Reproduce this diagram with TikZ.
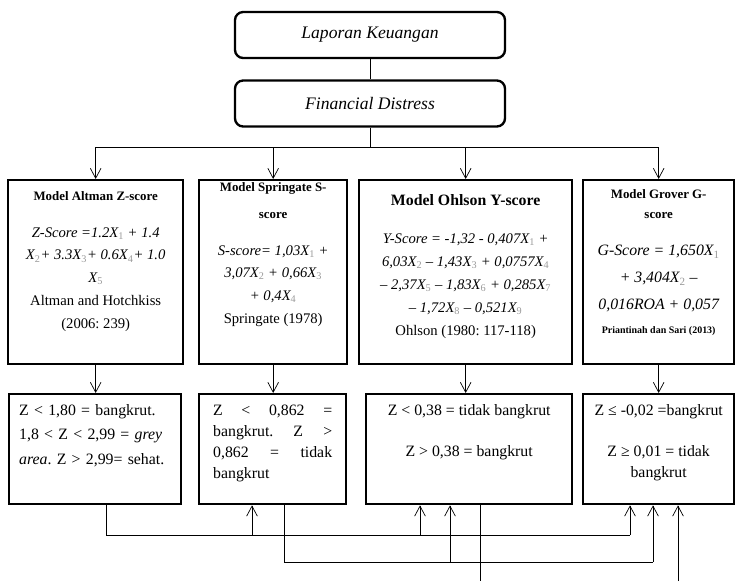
\documentclass[tikz,border=0pt]{standalone}
\usepackage{fontspec}
\setmainfont{Liberation Serif}
\usetikzlibrary{arrows.meta, positioning}
\tikzstyle{headbox} = [rectangle, rounded corners=7pt, minimum width=8.1cm, minimum height=1.38cm, text centered, draw=black, line width=2pt, font=\fontsize{15}{18}\selectfont\itshape]
\tikzstyle{modelbox} = [rectangle, anchor=north west, draw=black, line width=2pt, inner xsep=0.1cm, inner ysep=0pt, align=flush center, font=\fontsize{12.5}{19.5}\selectfont]
\tikzstyle{resultbox} = [rectangle, anchor=north west, draw=black, line width=2pt, inner xsep=0.42cm, inner ysep=0pt, text height=0.63cm, text depth=2.67cm, font=\fontsize{13.5}{18}\selectfont]
\tikzstyle{arrow} = [semithick,-{Straight Barb[length=3mm,width=3.2mm]}]
\tikzstyle{line} = [semithick]
\newcommand{\sx}[1]{\textsubscript{\color{black!40}\upshape #1}}
\newcommand{\mtitle}[1]{{\bfseries\fontsize{11}{13}\selectfont #1}}
\frenchspacing

\begin{document}
\begin{tikzpicture}[x=0.03cm, y=-0.03cm]
\useasboundingbox (0,0) rectangle (735,581);

\node (lapor) [headbox] at (370,35) {Laporan Keuangan};
\node (distress) [headbox] at (370,103.5) {Financial Distress};
\coordinate (split) at (370,147);

% models
\node (altman) [modelbox, text width=5.05cm, text height=0.6cm, text depth=4.92cm] at (7,179)
  {\mtitle{Model Altman Z-score}\\[12pt]
   \textit{Z-Score =1.2X\sx{1} + 1.4}\\
   \textit{X\sx{2}+ 3.3X\sx{3}+ 0.6X\sx{4}+ 1.0}\\
   \textit{X\sx{5}}\\
   Altman and Hotchkiss\\
   (2006: 239)};
\node (springate) [modelbox, text width=4.24cm, text height=0.33cm, text depth=5.19cm] at (198,179)
  {\mtitle{Model Springate S-}\\[3.5pt]
   \mtitle{score}\\[12pt]
   \textit{S-score= 1,03X\sx{1} +}\\
   \textit{3,07X\sx{2} + 0,66X\sx{3}}\\
   \textit{+ 0,4X\sx{4}}\\
   Springate (1978)};
\node (ohlson) [modelbox, text width=6.19cm, text height=0.75cm, text depth=4.77cm] at (358,179)
  {{\bfseries\fontsize{13.5}{16}\selectfont Model Ohlson Y-score}\\[13.5pt]
   \textit{Y-Score = -1,32 - 0,407X\sx{1} +}\\
   \textit{6,03X\sx{2} – 1,43X\sx{3} + 0,0757X\sx{4}}\\
   \textit{– 2,37X\sx{5} – 1,83X\sx{6} + 0,285X\sx{7}}\\
   \textit{– 1,72X\sx{8} – 0,521X\sx{9}}\\
   Ohlson (1980: 117-118)};
\node (grover) [modelbox, text width=4.33cm, text height=0.54cm, text depth=4.98cm] at (582,179)
  {\mtitle{Model Grover G-}\\[-2.5pt]
   \mtitle{score}\\[12.5pt]
   {\fontsize{13.5}{16}\selectfont\itshape G-Score = 1,650X\sx{1}}\\[3.5pt]
   {\fontsize{13.5}{16}\selectfont\itshape + 3,404X\sx{2} –}\\[3.5pt]
   {\fontsize{13.5}{16}\selectfont\itshape 0,016ROA + 0,057}\\[1pt]
   {\bfseries\fontsize{8.5}{10}\selectfont Priantinah dan Sari (2013)}};

% results
\node (altmanres) [resultbox, text width=4.56cm, inner xsep=0.3cm, font=\fontsize{13.5}{21}\selectfont] at (8,393)
  {Z < 1,80 = bangkrut.\linebreak 1,8 < Z < 2,99 = \textit{grey}\linebreak \textit{area}. Z > 2,99= \mbox{sehat.}};
\node (springres) [resultbox, text width=3.57cm] at (198,393)
  {Z \hfill < \hfill 0,862 \hfill =\\ bangkrut. \hfill Z \hfill >\\ 0,862 \hfill = \hfill tidak\\ bangkrut};
\node (ohlsonres) [resultbox, text width=5.88cm, inner xsep=0.15cm, align=flush center] at (365,393)
  {Z < 0,38 = tidak bangkrut\\[17pt] Z > 0,38 = bangkrut};
\node (groverres) [resultbox, text width=4.23cm, inner xsep=0.15cm, align=flush center] at (582,393)
  {Z ≤ -0,02 =bangkrut\\[17pt] Z ≥ 0,01 = tidak\\ bangkrut};

\draw [line] (lapor) -- (distress);
\draw [line] (distress) -- (split);
\draw [arrow] (split) -| (altman.north);
\draw [arrow] (split) -| (springate.north);
\draw [arrow] (split) -| (ohlson.north);
\draw [arrow] (split) -| (grover.north);

\draw [arrow] (altman.south) -- (altman.south |- altmanres.north);
\draw [arrow] (springate.south) -- (springate.south |- springres.north);
\draw [arrow] (ohlson.south) -- (ohlson.south |- ohlsonres.north);
\draw [arrow] (grover.south) -- (grover.south |- groverres.north);

% comparison lines
\coordinate (a0) at (106,535);
\coordinate (a1) at (252,535);
\coordinate (a2) at (420,535);
\coordinate (a3) at (630,535);
\coordinate (b0) at (284,562);
\coordinate (b1) at (450,562);
\coordinate (b2) at (653,562);
\coordinate (c0) at (480,581);
\coordinate (c1) at (678,581);

\draw [line] (altmanres.south -| a0) |- (a3);
\draw [arrow] (a1) -- (springres.south -| a1);
\draw [arrow] (a2) -- (ohlsonres.south -| a2);
\draw [arrow] (a3) -- (groverres.south -| a3);
\draw [line] (springres.south -| b0) |- (b2);
\draw [arrow] (b1) -- (ohlsonres.south -| b1);
\draw [arrow] (b2) -- (groverres.south -| b2);
\draw [line] (ohlsonres.south -| c0) -- (c0);
\draw [arrow] (c1) -- (groverres.south -| c1);
\end{tikzpicture}
\end{document}
